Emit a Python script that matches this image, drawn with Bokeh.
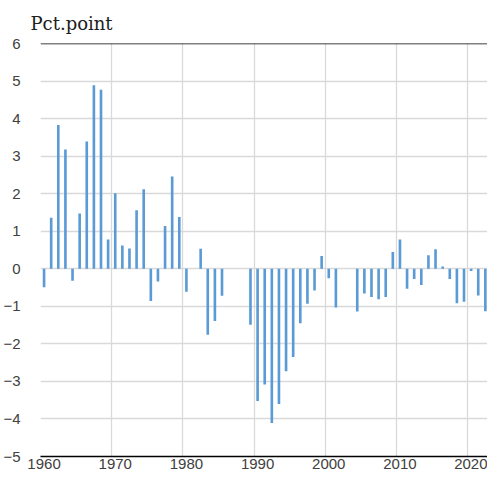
from bokeh.plotting import figure
from bokeh.models import FixedTicker, Span, Range1d
from bokeh.embed import file_html
from bokeh.resources import INLINE

years = list(range(1960, 2023))
values = [
    -0.49, 1.36, 3.83, 3.18, -0.32, 1.47, 3.39, 4.89, 4.77, 0.78,   # 1960-1969
    2.01, 0.62, 0.54, 1.56, 2.12, -0.86, -0.34, 1.14, 2.46, 1.38,   # 1970-1979
    -0.61, 0.0, 0.53, -1.76, -1.39, -0.72, 0.0, 0.0, 0.0, -1.49,    # 1980-1989
    -3.52, -3.08, -4.11, -3.60, -2.73, -2.35, -1.45, -0.93, -0.58, 0.34,  # 1990-1999
    -0.25, -1.03, 0.0, 0.0, -1.14, -0.66, -0.75, -0.81, -0.75, 0.45,  # 2000-2009
    0.78, -0.53, -0.27, -0.43, 0.36, 0.52, 0.06, -0.27, -0.92, -0.88,  # 2010-2019
    -0.06, -0.71, -1.13,                                              # 2020-2022
]
x_tick_years = [1960, 1970, 1980, 1990, 2000, 2010, 2020]
y_ticks = list(range(-5, 7))
title_text = "Pct.point"

p = figure(width=487, height=476, output_backend="svg", toolbar_location=None,
           x_range=Range1d(1960, 2022.8), y_range=Range1d(-5, 6),
           min_border_left=35, min_border_right=0, min_border_top=37, min_border_bottom=20)
p.outline_line_color = None

centers = [y + 0.5 for y in years]
p.vbar(x=centers, top=values, bottom=0, width=0.37, color="#5B9BD5", line_color=None)

# grids
p.xgrid.ticker = FixedTicker(ticks=x_tick_years)
p.ygrid.ticker = FixedTicker(ticks=y_ticks)
p.xgrid.grid_line_color = "#d9d9d9"
p.ygrid.grid_line_color = "#d9d9d9"
p.xgrid.grid_line_width = 1.3
p.ygrid.grid_line_width = 1.3

# x axis: labels centred on the category
p.xaxis.ticker = FixedTicker(ticks=[y + 0.5 for y in x_tick_years])
p.xaxis.major_label_overrides = {y + 0.5: str(y) for y in x_tick_years}
p.xaxis.axis_line_color = "black"
p.xaxis.axis_line_width = 1.5
p.xaxis.major_tick_line_color = None
p.xaxis.minor_tick_line_color = None
p.xaxis.major_tick_out = 0
p.xaxis.major_tick_in = 0
p.xaxis.minor_tick_out = 0
p.xaxis.minor_tick_in = 0
p.xaxis.major_label_text_font = "Liberation Sans"
p.xaxis.major_label_text_font_size = "15px"
p.xaxis.major_label_text_color = "#404040"
p.xaxis.major_label_standoff = 2

p.yaxis.ticker = FixedTicker(ticks=y_ticks)
p.yaxis.axis_line_color = None
p.yaxis.major_tick_line_color = None
p.yaxis.minor_tick_line_color = None
p.yaxis.major_tick_out = 0
p.yaxis.major_tick_in = 0
p.yaxis.minor_tick_out = 0
p.yaxis.minor_tick_in = 0
p.yaxis.major_label_text_font = "Liberation Sans"
p.yaxis.major_label_text_font_size = "15px"
p.yaxis.major_label_text_color = "#404040"
p.yaxis.major_label_standoff = 20

p.add_layout(Span(location=6, dimension="width", line_color="black", line_width=1.5))

p.title.text = title_text
p.title.align = "left"
p.title.offset = -10
p.title.text_font = "DejaVu Serif"
p.title.text_font_style = "normal"
p.title.text_font_size = "18px"
p.title.text_color = "#202020"
p.title.standoff = 20

open("out.html", "w").write(file_html(p, INLINE))
